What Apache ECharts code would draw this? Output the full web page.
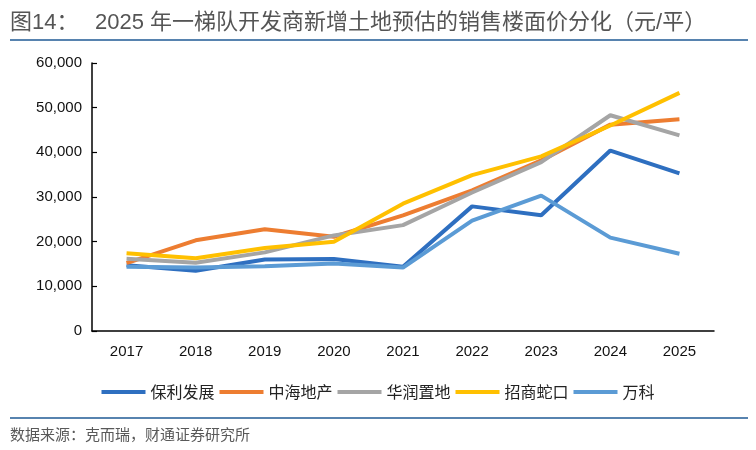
<!DOCTYPE html>
<html>
<head>
<meta charset="utf-8">
<script src="https://cdn.jsdelivr.net/npm/echarts@6/dist/echarts.min.js"></script>
<style>
html,body{margin:0;padding:0;background:#fff;}
#chart{width:756px;height:450px;}
</style>
</head>
<body>
<div id="chart"></div>
<script>
const years = ['2017','2018','2019','2020','2021','2022','2023','2024','2025'];
const seriesNames = ['保利发展','中海地产','华润置地','招商蛇口','万科'];
const poly   = [14700, 13500, 16000, 16100, 14400, 27900, 25900, 40400, 35300];
const coli   = [15200, 20300, 22800, 21100, 25900, 31500, 38200, 46200, 47400];
const crland = [16200, 15300, 17600, 21400, 23700, 31000, 37800, 48300, 43800];
const cmsk   = [17400, 16300, 18600, 20000, 28500, 34900, 39100, 46000, 53300];
const vanke  = [14400, 14200, 14500, 15100, 14200, 24700, 30300, 20900, 17300];
const yTicks = [0, 10000, 20000, 30000, 40000, 50000, 60000];
const titleLabel = '图14：';
const titleText = '2025 年一梯队开发商新增土地预估的销售楼面价分化（元/平）';
const sourceText = '数据来源：克而瑞，财通证券研究所';

const colors = ['#2e6fc0', '#ed7d31', '#a5a5a5', '#ffc000', '#5b9bd5'];
const dataSets = [poly, coli, crland, cmsk, vanke];

const chart = echarts.init(document.getElementById('chart'));
const fmt = v => v.toString().replace(/\B(?=(\d{3})+(?!\d))/g, ',');
const titleFont = 'Liberation Sans, Noto Sans CJK SC, sans-serif';

chart.setOption({
  animation: false,
  color: colors,
  grid: {left: 92, right: 42, top: 63, bottom: 119, containLabel: false},
  legend: {
    data: seriesNames,
    top: 379,
    left: 'center',
    icon: 'rect',
    itemWidth: 44,
    itemHeight: 4,
    itemGap: 5,
    textStyle: {fontSize: 16, color: '#222', fontFamily: 'Noto Sans CJK SC'}
  },
  xAxis: {
    type: 'category',
    data: years,
    boundaryGap: true,
    axisLine: {lineStyle: {color: '#000', width: 1.5}},
    axisTick: {inside: true, length: 5, lineStyle: {color: '#000', width: 1.2}},
    axisLabel: {fontSize: 15, color: '#111', margin: 13, fontFamily: 'Liberation Sans'}
  },
  yAxis: {
    type: 'value',
    min: yTicks[0],
    max: yTicks[yTicks.length - 1],
    interval: yTicks[1] - yTicks[0],
    splitLine: {show: false},
    axisLine: {show: true, lineStyle: {color: '#000', width: 1.5}},
    axisTick: {show: true, inside: true, length: 5, lineStyle: {color: '#000', width: 1.2}},
    axisLabel: {fontSize: 15, color: '#111', margin: 10, fontFamily: 'Liberation Sans', formatter: fmt}
  },
  series: seriesNames.map((n, i) => ({
    name: n,
    type: 'line',
    data: dataSets[i],
    symbol: 'none',
    lineStyle: {width: 4, color: colors[i]},
    itemStyle: {color: colors[i]}
  })),
  graphic: [
    {type: 'text', left: 10, top: 12, style: {text: titleLabel, fontSize: 22, fill: '#555', fontFamily: titleFont}},
    {type: 'text', left: 95, top: 12, style: {text: titleText, fontSize: 22, fill: '#555', fontFamily: titleFont}},
    {type: 'line', shape: {x1: 10, y1: 40, x2: 748, y2: 40}, style: {stroke: '#1f5a94', lineWidth: 1.5}},
    {type: 'line', shape: {x1: 10, y1: 418, x2: 748, y2: 418}, style: {stroke: '#1f5a94', lineWidth: 1.5}},
    {type: 'text', left: 10, top: 427, style: {text: sourceText, fontSize: 15, fill: '#595959', fontFamily: 'Noto Sans CJK SC'}}
  ]
});
</script>
</body>
</html>
